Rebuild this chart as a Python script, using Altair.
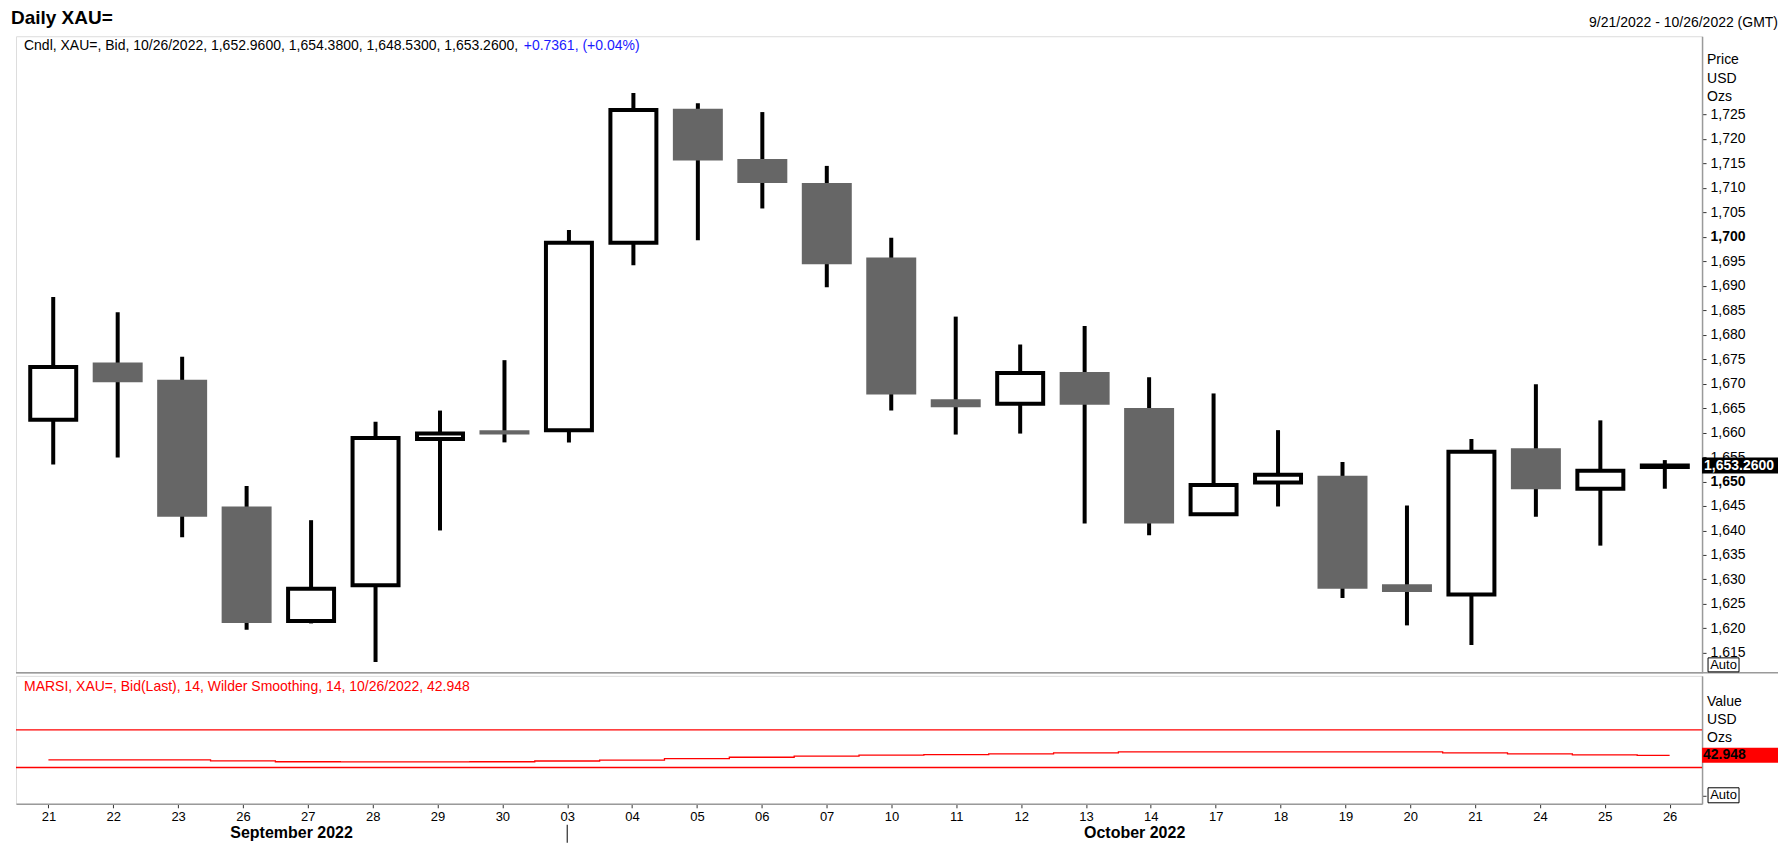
import json
import altair as alt
import pandas as pd

# ---------------- data ----------------
days = ["21", "22", "23", "26", "27", "28", "29", "30", "03", "04", "05", "06", "07",
        "10", "11", "12", "13", "14", "17", "18", "19", "20", "21", "24", "25", "26"]
month_of = ["September 2022"] * 8 + ["October 2022"] * 18
open_ = [1662.6, 1674.3, 1670.8, 1644.9, 1621.5, 1628.8, 1658.7, 1660.5, 1660.5, 1698.8,
         1726.2, 1715.9, 1711.0, 1695.8, 1666.8, 1665.9, 1672.4, 1665.0, 1643.3, 1649.8,
         1651.2, 1629.0, 1626.9, 1656.8, 1648.5, 1652.96]
high = [1687.7, 1684.6, 1675.5, 1649.1, 1642.1, 1662.2, 1664.5, 1674.8, 1701.4, 1729.4,
        1727.3, 1725.5, 1714.5, 1699.8, 1683.7, 1678.0, 1681.8, 1671.3, 1668.0, 1660.5,
        1654.0, 1645.1, 1658.7, 1669.9, 1662.5, 1654.38]
low = [1653.5, 1654.9, 1638.6, 1619.7, 1621.0, 1613.1, 1640.0, 1658.0, 1658.0, 1694.2,
       1699.3, 1705.8, 1689.7, 1664.5, 1659.6, 1659.8, 1641.4, 1639.0, 1643.3, 1644.9,
       1626.2, 1620.6, 1616.6, 1642.8, 1636.9, 1648.53]
close = [1673.4, 1670.3, 1642.8, 1621.1, 1628.1, 1658.9, 1659.8, 1659.6, 1698.8, 1725.9,
         1715.6, 1711.0, 1694.4, 1667.8, 1665.2, 1672.2, 1665.7, 1641.4, 1649.3, 1651.4,
         1628.1, 1627.4, 1656.1, 1648.4, 1652.2, 1653.26]
rsi = [38.2, 38.2, 38.1, 37.1, 36.1, 36.0, 36.0, 36.1, 36.9, 37.9, 39.4, 40.9, 42.0,
       43.1, 43.6, 44.5, 45.6, 46.6, 46.7, 46.7, 46.6, 46.5, 45.5, 44.4, 43.4, 42.948]
rsi_levels = [70, 30]
price_ticks = list(range(1615, 1730, 5))

title_text = "Daily XAU="
range_text = "9/21/2022 - 10/26/2022 (GMT)"
legend_black = "Cndl, XAU=, Bid, 10/26/2022, 1,652.9600, 1,654.3800, 1,648.5300, 1,653.2600,"
legend_blue = "+0.7361, (+0.04%)"
rsi_legend = "MARSI, XAU=, Bid(Last),  14, Wilder Smoothing, 14, 10/26/2022, 42.948"
price_unit = ["Price", "USD", "Ozs"]
rsi_unit = ["Value", "USD", "Ozs"]

df = pd.DataFrame({"idx": list(range(len(days))), "day": days, "month": month_of,
                   "open": open_, "high": high, "low": low, "close": close, "rsi": rsi})
months_df = (df.groupby("month", sort=False)["idx"].agg(["mean", "min"]).reset_index())
months_df["pos"] = months_df["mean"] + 0.25

# ---------------- layout ----------------
FONT = "Liberation Sans"
PW, PH, RH = 1687, 637, 128
BOXW = 76
GRAY = "#9a9a9a"

xscale = alt.Scale(domain=[-0.5, len(days) - 0.5], nice=False, zero=False)
pscale = alt.Scale(domain=[1610.9, 1741.0], nice=False, zero=False)
rscale = alt.Scale(domain=[-8.5, 127.3], nice=False, zero=False)

price_axis = alt.Axis(orient="right", values=price_ticks, format=",d",
                      title=None, grid=False, tickSize=4, tickColor="#333",
                      domainColor=GRAY, domainWidth=1.5, labelPadding=4,
                      labelFont=FONT, labelFontSize=14, labelColor="black",
                      labelOverlap=False, labelFlush=False, labelBound=False,
                      labelFontWeight={"expr": "datum.value % 50 === 0 ? 'bold' : 'normal'"})
rsi_axis = alt.Axis(orient="right", values=[0], labels=False, title=None,
                    grid=False, tickSize=4, tickColor="#333",
                    domainColor=GRAY, domainWidth=1.5)
x_axis = alt.Axis(values=list(range(len(days))),
                  labelExpr=json.dumps(days) + "[datum.value]",
                  title=None, grid=False, tickSize=4, tickColor="#333",
                  domainColor=GRAY, domainWidth=1.5, labelPadding=3,
                  labelFont=FONT, labelFontSize=13, labelColor="black",
                  labelOverlap=False, labelFlush=False)


def PY(field):
    return alt.Y(field, scale=pscale, axis=price_axis)


def RY(field):
    return alt.Y(field, scale=rscale, axis=rsi_axis)


def RX(field):
    return alt.X(field, scale=xscale, axis=x_axis)


def txt(text, x, y, size=14, color="black", weight="normal", align="left"):
    return alt.Chart(pd.DataFrame({"t": [text]})).mark_text(
        align=align, baseline="middle", font=FONT, fontSize=size, color=color,
        fontWeight=weight).encode(x=alt.value(x), y=alt.value(y), text="t:N")


def box(x1, x2, y1, y2):
    return alt.Chart(pd.DataFrame({"t": [0]})).mark_rect(
        fill="white", stroke="black", strokeWidth=1).encode(
        x=alt.value(x1), x2=alt.value(x2), y=alt.value(y1), y2=alt.value(y2))


base = alt.Chart(df)
X = alt.X("idx:Q", scale=xscale, axis=None)

wicks = base.mark_rule(color="black", strokeWidth=4).encode(
    x=X, y=PY("low:Q"), y2="high:Q")
down = base.transform_filter("datum.close < datum.open").mark_bar(
    size=50, color="#666666").encode(x=X, y=PY("open:Q"), y2="close:Q")
up = base.transform_filter("datum.close >= datum.open").mark_bar(
    size=46, fill="white", stroke="black", strokeWidth=4).encode(
    x=X, y=PY("open:Q"), y2="close:Q")

last = base.transform_filter(f"datum.idx === {len(days) - 1}")
last_box = last.mark_tick(orient="horizontal", size=BOXW, thickness=16, color="black",
                          opacity=1).encode(x=alt.value(PW + BOXW / 2), y=PY("close:Q"))
last_txt = last.mark_text(align="left", baseline="middle", font=FONT, fontSize=14,
                          fontWeight="bold", color="white").encode(
    x=alt.value(PW + 2), y=PY("close:Q"), text=alt.Text("close:Q", format=",.4f"))

sep = alt.Chart(pd.DataFrame({"t": [0]})).mark_rule(color=GRAY, strokeWidth=1.5).encode(
    x=alt.value(0), x2=alt.value(PW + BOXW), y=alt.value(PH))

price_layers = [wicks, down, up, last_box, last_txt, sep,
                txt(title_text, -5, -18, size=19, weight="bold"),
                txt(range_text, PW + BOXW, -13, align="right"),
                txt(legend_black, 8, 9.5),
                txt(legend_blue, 8 + 500, 9.5, color="#1a1aff"),
                box(PW + 6, PW + 37, PH - 15, PH - 1),
                txt("Auto", PW + 21.5, PH - 8, size=13, align="center")]
for i, u in enumerate(price_unit):
    price_layers.append(txt(u, PW + 5, 24 + 18.5 * i))

price = alt.layer(*price_layers).properties(width=PW, height=PH)

# ---------------- RSI panel ----------------
rsi_line = base.mark_line(interpolate="step", color="red", strokeWidth=1.3).encode(
    x=RX("idx:Q"), y=RY("rsi:Q"))
levels = alt.Chart(pd.DataFrame({"level": rsi_levels})).mark_rule(
    color="red", strokeWidth=1.3).encode(y=RY("level:Q"))

rlast = base.transform_filter(f"datum.idx === {len(days) - 1}")
rsi_box = rlast.mark_tick(orient="horizontal", size=BOXW, thickness=15, color="red",
                          opacity=1).encode(x=alt.value(PW + BOXW / 2), y=RY("rsi:Q"))
rsi_txt = rlast.mark_text(align="left", baseline="middle", font=FONT, fontSize=14,
                          fontWeight="bold", color="black").encode(
    x=alt.value(PW + 1), y=RY("rsi:Q"), text=alt.Text("rsi:Q", format=".3f"))

month_lbl = alt.Chart(months_df).mark_text(
    font=FONT, fontSize=16, fontWeight="bold", baseline="middle", align="center").encode(
    x=RX("pos:Q"), y=alt.value(RH + 29), text="month:N")
month_sep = alt.Chart(months_df.iloc[1:]).mark_rule(color="black", strokeWidth=1).encode(
    x=RX("min:Q"), y=alt.value(RH + 21), y2=alt.value(RH + 39))

rsi_layers = [levels, rsi_line, rsi_box, rsi_txt, month_lbl, month_sep,
              txt(rsi_legend, 8, 11, color="red"),
              box(PW + 6, PW + 37, RH - 16, RH - 1),
              txt("Auto", PW + 21.5, RH - 8.5, size=13, align="center")]
for i, u in enumerate(rsi_unit):
    rsi_layers.append(txt(u, PW + 5, 26 + 18 * i))

rsi_chart = alt.layer(*rsi_layers).properties(width=PW, height=RH)

chart = alt.vconcat(price, rsi_chart, spacing=0).configure_view(
    stroke=GRAY, strokeWidth=1.5).configure(font=FONT).properties(
    padding={"left": 2, "top": 0, "right": 0, "bottom": 0}, background="white")

chart.save("out.html", embed_options={"renderer": "svg", "actions": False})
